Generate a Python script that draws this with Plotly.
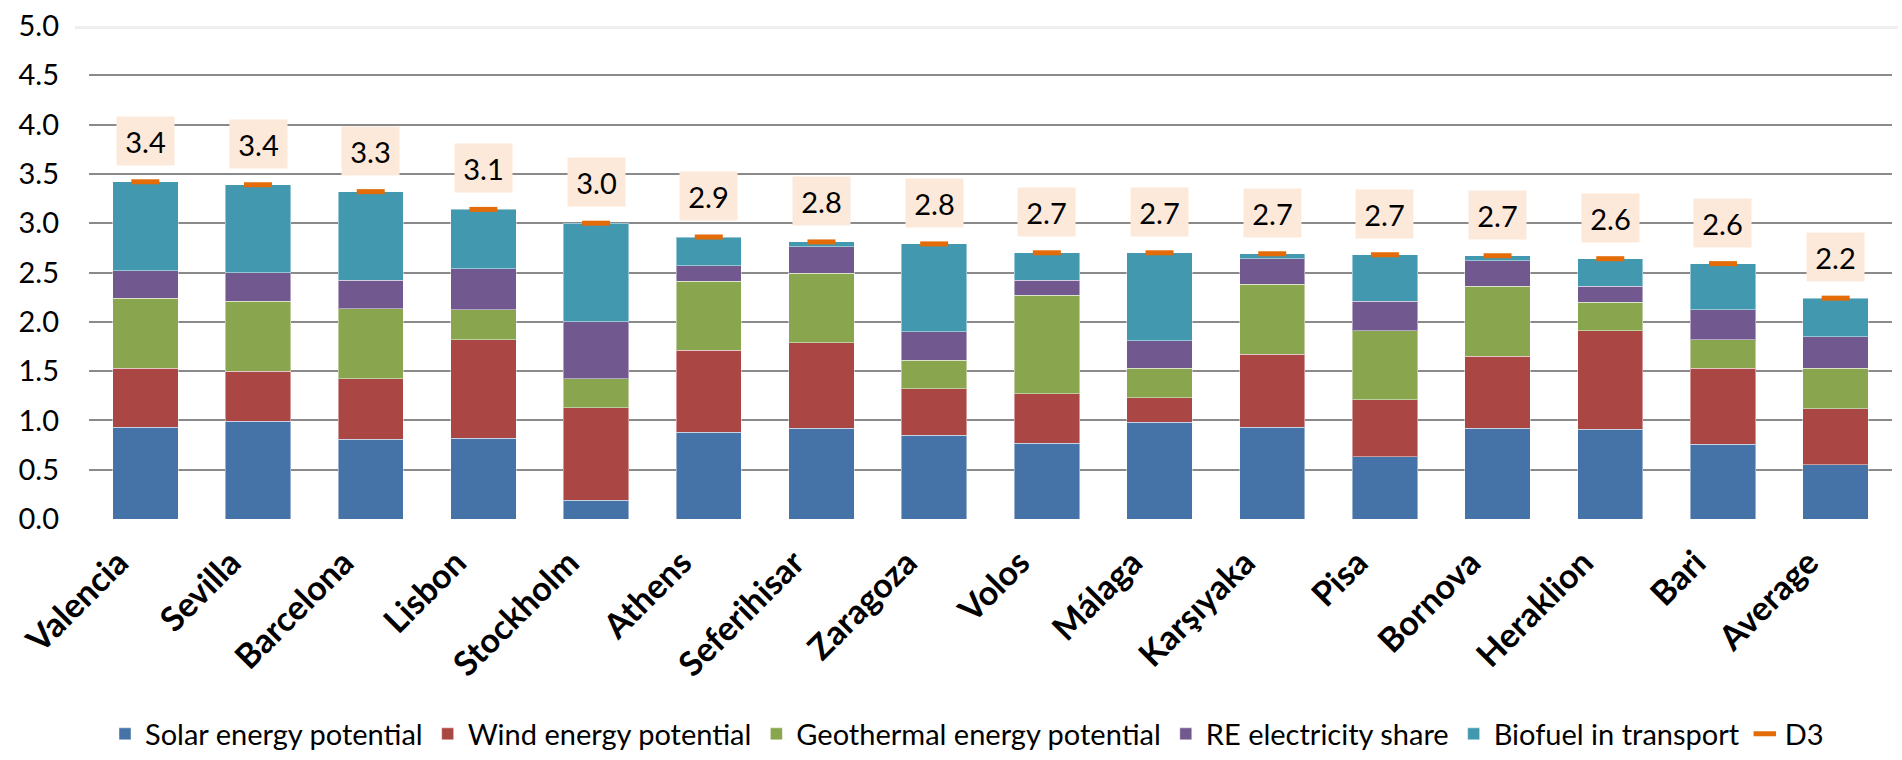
import plotly.graph_objects as go

# Cities and component scores (stacked), D3 = total
cities = ["Valencia", "Sevilla", "Barcelona", "Lisbon", "Stockholm", "Athens",
          "Seferihisar", "Zaragoza", "Volos", "Málaga", "Karşıyaka", "Pisa",
          "Bornova", "Heraklion", "Bari", "Average"]

solar = [0.93, 0.99, 0.81, 0.82, 0.19, 0.88, 0.92, 0.85, 0.77, 0.98, 0.93, 0.63,
         0.92, 0.91, 0.76, 0.55]
wind = [0.60, 0.51, 0.61, 1.00, 0.94, 0.83, 0.87, 0.47, 0.50, 0.25, 0.74, 0.58,
        0.73, 1.00, 0.77, 0.57]
geothermal = [0.71, 0.71, 0.71, 0.30, 0.29, 0.70, 0.70, 0.29, 1.00, 0.30, 0.71, 0.70,
              0.71, 0.29, 0.29, 0.41]
re_share = [0.28, 0.29, 0.29, 0.42, 0.58, 0.16, 0.27, 0.29, 0.15, 0.28, 0.26, 0.30,
            0.26, 0.16, 0.30, 0.32]
biofuel = [0.90, 0.89, 0.90, 0.60, 1.00, 0.29, 0.05, 0.89, 0.28, 0.89, 0.05, 0.47,
           0.05, 0.28, 0.47, 0.39]

d3 = [round(s + w + g + r + b, 2) for s, w, g, r, b in
      zip(solar, wind, geothermal, re_share, biofuel)]

series = [
    ("Solar energy potential", solar, "#4572A7"),
    ("Wind energy potential", wind, "#AA4643"),
    ("Geothermal energy potential", geothermal, "#89A54E"),
    ("RE electricity share", re_share, "#71588F"),
    ("Biofuel in transport", biofuel, "#4198AF"),
]

FONT = "Lato, 'Open Sans', sans-serif"

fig = go.Figure()
for name, vals, color in series:
    fig.add_trace(go.Bar(
        name=name, x=cities, y=vals,
        marker=dict(color=color, line=dict(color="rgba(255,255,255,0.45)", width=1)),
    ))

fig.add_trace(go.Scatter(
    name="D3", x=cities, y=d3, mode="markers",
    marker=dict(symbol="line-ew", size=20, color="#E36C09",
                line=dict(color="#E36C09", width=5)),
))

# value labels above each stack
for c, v in zip(cities, d3):
    fig.add_annotation(
        x=c, y=v, text=f"{v:.1f}", showarrow=False, yshift=41,
        yanchor="middle", xanchor="center",
        bgcolor="#FDE9D9", width=53, height=44, borderpad=2,
        font=dict(family=FONT, size=29, color="black"),
    )

# light bands along the top and the baseline of the plot area
W_PLOT = 1892 - 89
fig.add_shape(type="rect", xref="paper", yref="y", ysizemode="pixel", yanchor=5,
              x0=(75 - 89) / W_PLOT, x1=(1898 - 89) / W_PLOT, y0=-3, y1=3,
              fillcolor="#EFEFEF", line=dict(width=0), layer="below")
fig.add_shape(type="rect", xref="paper", yref="y", ysizemode="pixel", yanchor=0,
              x0=(82 - 89) / W_PLOT, x1=(1902 - 89) / W_PLOT, y0=0, y1=-7,
              fillcolor="#EFEFEF", line=dict(width=0), layer="below")

fig.update_layout(
    width=1902, height=760,
    barmode="stack", bargap=0.42,
    plot_bgcolor="white", paper_bgcolor="white",
    margin=dict(l=89, r=10, t=26, b=241, autoexpand=False),
    font=dict(family=FONT, color="black"),
    xaxis=dict(
        range=[-0.5, len(cities) - 0.5],
        tickangle=-45, showgrid=False, showline=False, zeroline=False,
        automargin=False, ticklabelstandoff=16, ticklabelshift=-27,
        tickfont=dict(family=FONT, size=34, color="black", weight="bold"),
    ),
    yaxis=dict(
        range=[0, 5], dtick=0.5, tickformat=".1f", automargin=False,
        showgrid=True, gridcolor="#8A8A8A", gridwidth=2,
        zeroline=False, showline=False,
        tickfont=dict(family=FONT, size=29, color="black"),
        ticklabelstandoff=29,
    ),
    legend=dict(
        orientation="h", x=(967 - 89) / W_PLOT, xanchor="center",
        yref="container", y=(760 - 734) / 760, yanchor="middle",
        font=dict(family=FONT, size=29, color="black"),
        itemwidth=30, traceorder="normal",
    ),
    showlegend=True,
)

fig.write_html("out.html")
